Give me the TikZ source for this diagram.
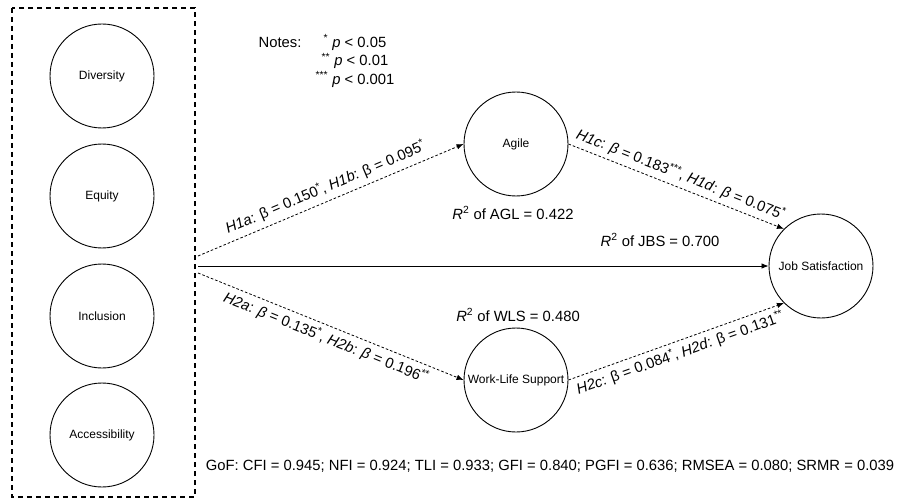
\documentclass[tikz,border=0pt]{standalone}
\usepackage{fontspec}
\setmainfont{Liberation Sans}
\usetikzlibrary{arrows.meta}

\begin{document}
\begin{tikzpicture}[x=1pt,y=-1pt,
  construct/.style={circle, draw, line width=0.9pt, minimum size=104pt, inner sep=0pt, font=\fontsize{12}{14}\selectfont},
  effect/.style={-{Latex[length=7pt,width=5.5pt]}, line width=0.8pt},
  hyp/.style={effect, dash pattern=on 2.6pt off 2pt},
  lbl/.style={font=\fontsize{14.8}{17}\selectfont}]
\useasboundingbox (0,0) rectangle (900,500);

% Group of exogenous constructs
\draw[line width=1.4pt, dash pattern=on 5pt off 4pt] (12,8) rectangle (195,497);
\node[construct] (div) at (102,76) {Diversity};
\node[construct] (equ) at (102,196) {Equity};
\node[construct] (inc) at (102,316) {Inclusion};
\node[construct] (acc) at (102,435) {Accessibility};

% Mediators and outcome
\node[construct] (agl) at (516,144) {Agile};
\node[construct] (wls) at (516,380) {Work-Life Support};
\node[construct] (jbs) at (821,266) {Job Satisfaction};

% Start points on the group
\coordinate (src1) at (198,256);
\coordinate (src2) at (198,266);
\coordinate (src3) at (198,273);

% Paths
\draw[hyp] (src1) -- node[lbl, sloped, above=2pt, pos=0.5] {\textit{H1a}: β = 0.150\textsuperscript{*}, \textit{H1b}: β = 0.095\textsuperscript{*}} (agl.west);
\draw[effect] (src2) -- (jbs.west);
\draw[hyp] (src3) -- node[lbl, sloped, below=1pt, pos=0.5] {\textit{H2a}: \textit{β} = 0.135\textsuperscript{*}, \textit{H2b}: \textit{β} = 0.196\textsuperscript{**}} (wls.west);
\draw[hyp] (agl.east) -- node[lbl, sloped, above=1pt, pos=0.5] {\textit{H1c}: \textit{β} = 0.183\textsuperscript{***}, \textit{H1d}: \textit{β} = 0.075\textsuperscript{*}} (jbs.north west);
\draw[hyp] (wls.east) -- node[lbl, sloped, below=1pt, pos=0.5] {\textit{H2c}: β = 0.084\textsuperscript{*}, \textit{H2d}: β = 0.131\textsuperscript{**}} (jbs.south west);

% Explained variance
\node[lbl] (r2agl) at (513,213) {\textit{R}\textsuperscript{2} of AGL = 0.422};
\node[lbl] (r2jbs) at (660,240) {\textit{R}\textsuperscript{2} of JBS = 0.700};
\node[lbl] (r2wls) at (518,315) {\textit{R}\textsuperscript{2} of WLS = 0.480};

% Notes and fit
\node[lbl] (notes) at (280,42) {Notes:};
\node[lbl, align=center, font=\fontsize{14.8}{18.5}\selectfont] (sig) at (355,61) {\textsuperscript{*} \textit{p} < 0.05\\ \textsuperscript{**} \textit{p} < 0.01\\ \textsuperscript{***} \textit{p} < 0.001};
\node[lbl] (gof) at (550,466) {GoF: CFI = 0.945; NFI = 0.924; TLI = 0.933; GFI = 0.840; PGFI = 0.636; RMSEA = 0.080; SRMR = 0.039};
\end{tikzpicture}
\end{document}
